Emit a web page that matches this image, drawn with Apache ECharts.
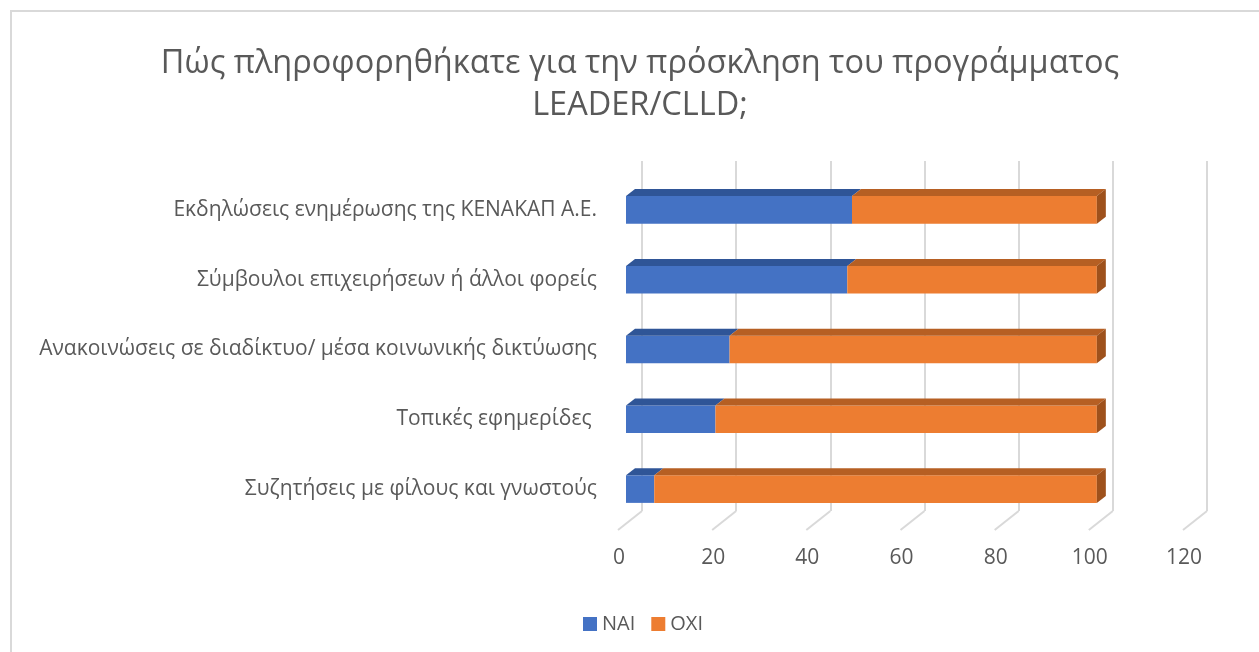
<!DOCTYPE html>
<html>
<head>
<meta charset="utf-8">
<script src="https://cdn.jsdelivr.net/npm/echarts@6/dist/echarts.min.js"></script>
<style>
  html, body { margin: 0; padding: 0; background: #fff; }
  #chart1 { width: 1259px; height: 652px; }
</style>
</head>
<body>
<div id="chart1"></div>
<script>
// categories listed bottom to top, like the Excel source
var categories = [
    'Συζητήσεις με φίλους και γνωστούς',
    'Τοπικές εφημερίδες ',
    'Ανακοινώσεις σε διαδίκτυο/ μέσα κοινωνικής δικτύωσης',
    'Σύμβουλοι επιχειρήσεων ή άλλοι φορείς',
    'Εκδηλώσεις ενημέρωσης της ΚΕΝΑΚΑΠ Α.Ε.'
];
var naiValues = [6, 19, 22, 47, 48];
var oxiValues = [94, 81, 78, 53, 52];
var xTicks = [0, 20, 40, 60, 80, 100, 120];

var DX = 9, DY = -7;       // depth of the 3d bars
var FLOOR_DX = -24, FLOOR_DY = 19;
var textColor = '#595959';

function box(colors, withSide) {
    return function (params, api) {
        var start = api.coord([api.value(0), api.value(2)]);
        var end = api.coord([api.value(1), api.value(2)]);
        var h = api.size([0, 1])[1] * 0.395;
        var x0 = start[0], x1 = end[0];
        var top = start[1] - h / 2, bot = start[1] + h / 2;
        var children = [
            {
                type: 'rect',
                shape: { x: x0, y: top, width: x1 - x0, height: bot - top },
                style: { fill: colors[0] }
            },
            {
                type: 'polygon',
                shape: { points: [[x0, top], [x0 + DX, top + DY], [x1 + DX, top + DY], [x1, top]] },
                style: { fill: colors[1] }
            }
        ];
        if (withSide) {
            children.push({
                type: 'polygon',
                shape: { points: [[x1, top], [x1 + DX, top + DY], [x1 + DX, bot + DY], [x1, bot]] },
                style: { fill: colors[2] }
            });
        }
        return { type: 'group', children: children };
    };
}

var naiData = [], oxiData = [];
for (var i = 0; i < categories.length; i++) {
    naiData.push([0, naiValues[i], i]);
    oxiData.push([naiValues[i], naiValues[i] + oxiValues[i], i]);
}

var chart1 = echarts.init(document.getElementById('chart1'));
var option1 = {
    animation: false,
    title: {
        text: 'Πώς πληροφορηθήκατε για την πρόσκληση του προγράμματος\nLEADER/CLLD;',
        left: 635,
        textAlign: 'center',
        top: 38,
        textStyle: {
            fontFamily: 'Open Sans',
            fontSize: 32.5,
            fontWeight: 'normal',
            color: textColor,
            lineHeight: 42
        }
    },
    legend: {
        top: 609,
        left: 578,
        icon: 'rect',
        itemWidth: 14,
        itemHeight: 14,
        itemGap: 16,
        textStyle: { fontFamily: 'Open Sans', fontSize: 20, color: textColor },
        data: ['NAI', 'OXI']
    },
    graphic: [{
        type: 'rect',
        shape: { x: 11, y: 11, width: 1300, height: 700 },
        style: { fill: 'none', stroke: '#d9d9d9', lineWidth: 2 },
        silent: true
    }],
    grid: [
        { left: 626, right: 68, top: 175, height: 349 },   // front plane
        { left: 642, right: 52, top: 161, bottom: 141 }    // back wall with gridlines
    ],
    xAxis: [
        {
            gridIndex: 0, type: 'value', min: 0, max: 120, interval: 20,
            splitLine: { show: false }, axisLine: { show: false }, axisTick: { show: false },
            axisLabel: {
                margin: 24, padding: [0, 14, 0, 0],
                fontFamily: 'Open Sans', fontSize: 21, color: textColor
            }
        },
        {
            gridIndex: 1, type: 'value', min: 0, max: 120, interval: 20,
            splitLine: { show: true, lineStyle: { color: '#d9d9d9', width: 2 } },
            axisLine: { show: false }, axisTick: { show: false }, axisLabel: { show: false }
        }
    ],
    yAxis: [
        {
            gridIndex: 0, type: 'category', data: categories,
            axisLine: { show: false }, axisTick: { show: false },
            axisLabel: {
                margin: 29, padding: [28, 0, 0, 0],
                fontFamily: 'Open Sans', fontSize: 21, color: textColor
            }
        },
        { gridIndex: 1, type: 'value', min: 0, max: 1, show: false }
    ],
    series: [
        {
            type: 'custom',
            xAxisIndex: 1, yAxisIndex: 1,
            silent: true,
            data: xTicks.map(function (t) { return [t, 0]; }),
            renderItem: function (params, api) {
                var p = api.coord([api.value(0), 0]);
                return {
                    type: 'line',
                    shape: { x1: p[0], y1: p[1], x2: p[0] + FLOOR_DX, y2: p[1] + FLOOR_DY },
                    style: { stroke: '#d9d9d9', lineWidth: 2 }
                };
            }
        },
        {
            name: 'NAI', type: 'custom',
            xAxisIndex: 0, yAxisIndex: 0,
            itemStyle: { color: '#4472C4' },
            encode: { x: [0, 1], y: 2 },
            data: naiData,
            renderItem: box(['#4472C4', '#2F5597', '#2F5597'], false)
        },
        {
            name: 'OXI', type: 'custom',
            xAxisIndex: 0, yAxisIndex: 0,
            itemStyle: { color: '#ED7D31' },
            encode: { x: [0, 1], y: 2 },
            data: oxiData,
            renderItem: box(['#ED7D31', '#B65F23', '#9E511C'], true)
        }
    ]
};
chart1.setOption(option1);
</script>
</body>
</html>
